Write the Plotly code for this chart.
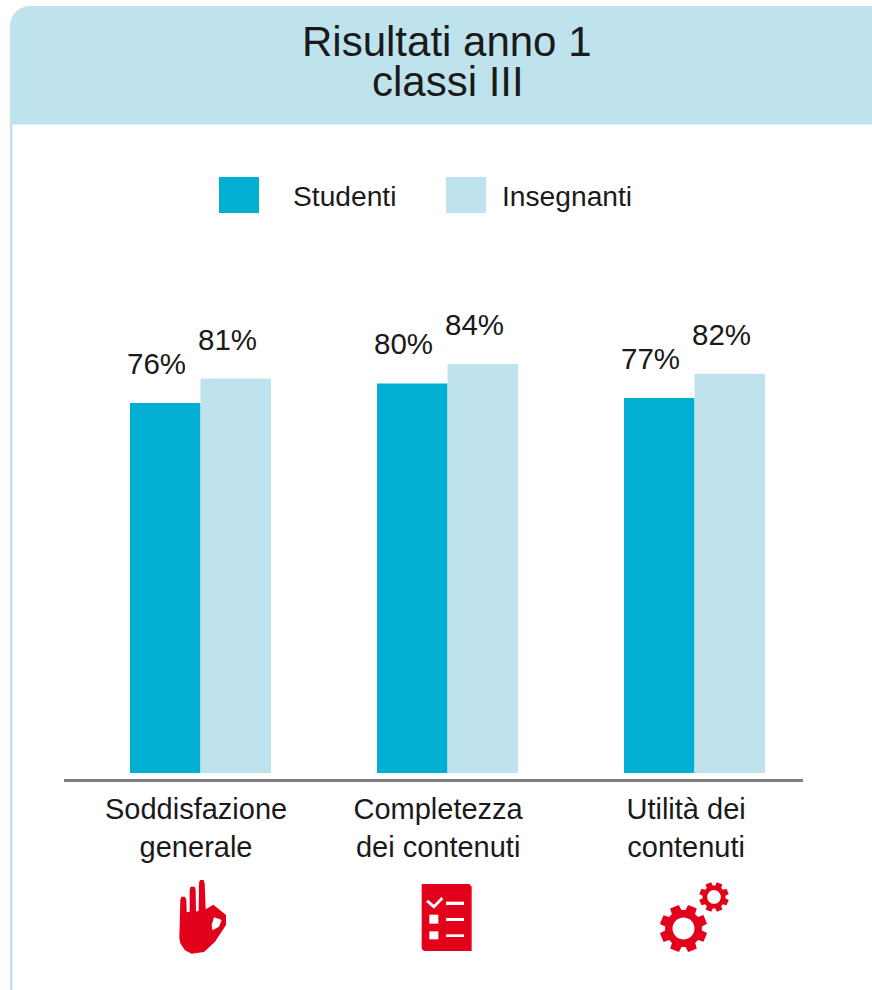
import math
import plotly.graph_objects as go

W, H = 872, 990

categories = ["Soddisfazione<br>generale", "Completezza<br>dei contenuti", "Utilità dei<br>contenuti"]
studenti = [76, 80, 77]
insegnanti = [81, 84, 82]
title_lines = ["Risultati anno 1", "classi III"]
series_names = ["Studenti", "Insegnanti"]

DARK = "#00AFD2"
LIGHT = "#BFE3ED"
RED = "#E2001A"
TEXT = "#1A1A1A"
FONT = "Liberation Sans"

# plot box in pixels
L, R, T, B = 64, 803, 290, 779
PX_PER_UNIT = 4.87
PITCH = 247
FIRST_CENTER = 200.5
y0 = -(B - 773) / PX_PER_UNIT
y1 = y0 + (B - T) / PX_PER_UNIT


def fx(p):
    return p / W


def fy(p):
    return 1 - p / H


def path(points, close=True):
    s = "M " + " L ".join(f"{fx(x):.5f},{fy(y):.5f}" for x, y in points)
    return s + (" Z" if close else "")


def zoomed(points, ox, oy):
    return [(ox + x / 3, oy + y / 3) for x, y in points]


def gear(cx, cy, r_out, r_body, r_hole, teeth, phase):
    pts = []
    step = 2 * math.pi / teeth
    for i in range(teeth):
        a = phase + i * step
        for da, r in ((-0.36, r_body), (-0.25, r_out), (0.25, r_out), (0.36, r_body)):
            pts.append((cx + r * math.cos(a + da * step), cy + r * math.sin(a + da * step)))
    hole = [(cx + r_hole * math.cos(k * math.pi / 18), cy + r_hole * math.sin(k * math.pi / 18)) for k in range(36)]
    return path(pts) + " " + path(hole)


def shape(d, color):
    return dict(type="path", xref="paper", yref="paper", path=d, fillcolor=color, line=dict(width=0), layer="above")


def rect(x0, y0_, x1, y1_, color, layer="below"):
    return dict(type="rect", xref="paper", yref="paper", x0=fx(x0), x1=fx(x1), y0=fy(y1_), y1=fy(y0_),
                fillcolor=color, line=dict(width=0), layer=layer)


# header band with rounded top-left corner
corner = [(10 + 20 - 20 * math.cos(k * math.pi / 20), 26 - 20 * math.sin(k * math.pi / 20)) for k in range(11)]
band = [(10, 124.5)] + corner + [(872, 6), (872, 124.5)]

hand = [(88, 205), (91, 90), (94, 80), (105, 80), (109, 90), (110, 127), (119, 125), (119, 60), (122, 50), (134, 50),
        (137, 60), (138, 125), (146, 122), (147, 40), (150, 30), (161, 30), (164, 40), (167, 118), (190, 104),
        (228, 135), (228, 165), (195, 215), (162, 246), (125, 251), (105, 241), (91, 220)]
hand_hole = [(192, 142), (208, 147), (215, 150), (207, 170), (187, 181), (185, 165)]

sheet = [(65, 42), (208, 42), (215, 50), (215, 243), (72, 243), (65, 236)]
check = [(78, 95), (85, 90), (102, 104), (124, 81), (130, 87), (102, 116)]
white_parts = [
    check,
    [(138, 95), (192, 95), (192, 105), (138, 105)],
    [(138, 144), (192, 144), (192, 153), (138, 153)],
    [(138, 193), (192, 193), (192, 201), (138, 201)],
    [(88, 134), (115, 134), (115, 161), (88, 161)],
    [(88, 184), (115, 184), (115, 208), (88, 208)],
]

shapes = [
    rect(10, 124, 12.5, 990, LIGHT),
    shape(path(band), LIGHT),
    rect(219, 177, 259, 213, DARK),
    rect(446, 177, 486, 213, LIGHT),
    shape(path(zoomed(hand, 150, 870)) + " " + path(zoomed(hand_hole, 150, 870)), RED),
    shape(path(zoomed(sheet, 400, 870)), RED),
    shape(gear(683.5, 928.5, 24, 18.5, 11, 8, 0.39), RED),
    shape(gear(714, 897, 15, 11.5, 6.8, 8, 0.39), RED),
]
for part in white_parts:
    shapes.append(shape(path(zoomed(part, 400, 870)), "white"))

BAR_W = 70.5 / PITCH

fig = go.Figure()
x_pos = list(range(len(categories)))
label_pos = [-0.018, 0.962, 1.966]
fig.add_bar(x=x_pos, y=studenti, name=series_names[0], marker=dict(color=DARK, line=dict(width=0)), width=BAR_W,
            offset=-BAR_W, showlegend=False)
fig.add_bar(x=x_pos, y=insegnanti, name=series_names[1], marker=dict(color=LIGHT, line=dict(width=0)), width=BAR_W,
            offset=0, showlegend=False)

annotations = []


def add_text(text, px, py, size):
    annotations.append(dict(text=text, xref="paper", yref="paper", x=fx(px), y=fy(py), showarrow=False,
                            xanchor="center", yanchor="middle", font=dict(family=FONT, size=size, color=TEXT)))


add_text(title_lines[0], 447, 41, 42)
add_text(title_lines[1], 447.5, 82, 42)
add_text(series_names[0], 344.5, 196, 28.2)
add_text(series_names[1], 567, 196, 28.2)

for i, (a, b) in enumerate(zip(studenti, insegnanti)):
    annotations.append(dict(text=f"{a}%", x=i - BAR_W / 2, y=a, xref="x", yref="y", showarrow=False, xshift=-8.5, yshift=39.5,
                            xanchor="center", yanchor="middle", font=dict(family=FONT, size=29.5, color=TEXT)))
    annotations.append(dict(text=f"{b}%", x=i + BAR_W / 2, y=b, xref="x", yref="y", showarrow=False, xshift=-8.5, yshift=39.5,
                            xanchor="center", yanchor="middle", font=dict(family=FONT, size=29.5, color=TEXT)))

fig.update_layout(
    width=W, height=H, autosize=False,
    margin=dict(l=0, r=0, t=0, b=0, pad=0),
    paper_bgcolor="white", plot_bgcolor="white",
    barmode="overlay", showlegend=False,
    shapes=shapes, annotations=annotations,
    font=dict(family=FONT, color=TEXT),
    xaxis=dict(domain=[L / W, R / W], range=[(L - FIRST_CENTER) / PITCH, (R - FIRST_CENTER) / PITCH],
               tickvals=label_pos, ticktext=categories, showgrid=False,
               zeroline=False, showline=True, linecolor="#808080", linewidth=3, ticks="outside", ticklen=2,
               tickwidth=0, tickcolor="rgba(0,0,0,0)",
               tickfont=dict(family=FONT, size=29, color=TEXT), automargin=False),
    yaxis=dict(domain=[1 - B / H, 1 - T / H], range=[y0, y1], visible=False, automargin=False),
)

fig.write_html("out.html", config=dict(displayModeBar=False),
               post_script="document.body.style.margin='0';document.body.style.overflow='hidden';")
